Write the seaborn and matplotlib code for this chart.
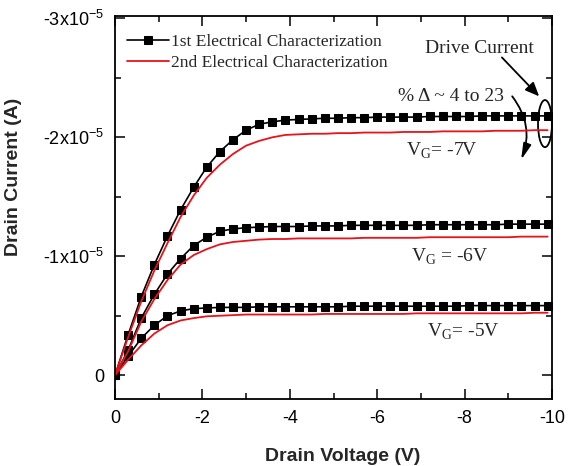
import numpy as np
import pandas as pd
import seaborn as sns
import matplotlib.pyplot as plt
from matplotlib.patches import Ellipse, FancyArrowPatch
from matplotlib.ticker import FixedLocator, FixedFormatter, MultipleLocator

# drain voltage sweep (V)
voltage = [0, -0.3, -0.6, -0.9, -1.2, -1.5, -1.8, -2.1, -2.4, -2.7,
           -3.0, -3.3, -3.6, -3.9, -4.2, -4.5, -4.8, -5.1, -5.4, -5.7,
           -6.0, -6.3, -6.6, -6.9, -7.2, -7.5, -7.8, -8.1, -8.4, -8.7,
           -9.0, -9.3, -9.6, -9.9]

# drain current magnitudes in units of 1e-5 A
first_vg7 = [0, 0.34, 0.66, 0.93, 1.17, 1.39, 1.58, 1.75, 1.88, 1.98,
             2.06, 2.11, 2.13, 2.145, 2.15, 2.155, 2.16, 2.16, 2.165, 2.165,
             2.17, 2.17, 2.17, 2.17, 2.175, 2.175, 2.175, 2.175, 2.18, 2.18,
             2.18, 2.18, 2.18, 2.18]
second_vg7 = [0, 0.32, 0.62, 0.88, 1.11, 1.33, 1.51, 1.66, 1.77, 1.86,
              1.93, 1.97, 2.00, 2.02, 2.025, 2.03, 2.03, 2.035, 2.035, 2.04,
              2.04, 2.04, 2.045, 2.045, 2.045, 2.05, 2.05, 2.05, 2.05, 2.055,
              2.055, 2.055, 2.06, 2.06]
first_vg6 = [0, 0.21, 0.48, 0.68, 0.85, 0.98, 1.09, 1.16, 1.21, 1.23,
             1.24, 1.245, 1.25, 1.25, 1.25, 1.255, 1.255, 1.255, 1.26, 1.26,
             1.26, 1.26, 1.26, 1.26, 1.265, 1.265, 1.265, 1.265, 1.265, 1.265,
             1.27, 1.27, 1.27, 1.27]
second_vg6 = [0, 0.2, 0.45, 0.64, 0.80, 0.93, 1.01, 1.06, 1.10, 1.12,
              1.13, 1.14, 1.145, 1.145, 1.15, 1.15, 1.15, 1.15, 1.15, 1.155,
              1.155, 1.155, 1.155, 1.155, 1.16, 1.16, 1.16, 1.16, 1.16, 1.16,
              1.16, 1.165, 1.165, 1.165]
first_vg5 = [0, 0.16, 0.31, 0.42, 0.50, 0.54, 0.56, 0.565, 0.57, 0.57,
             0.57, 0.575, 0.575, 0.575, 0.575, 0.575, 0.575, 0.575, 0.58, 0.58,
             0.58, 0.58, 0.58, 0.58, 0.58, 0.58, 0.58, 0.585, 0.585, 0.585,
             0.585, 0.585, 0.585, 0.585]
second_vg5 = [0, 0.13, 0.25, 0.35, 0.42, 0.46, 0.48, 0.495, 0.50, 0.505,
              0.51, 0.51, 0.51, 0.51, 0.51, 0.51, 0.515, 0.515, 0.515, 0.515,
              0.515, 0.515, 0.515, 0.52, 0.52, 0.52, 0.52, 0.52, 0.52, 0.52,
              0.52, 0.52, 0.525, 0.525]

y_ticks = [0, -1e-5, -2e-5, -3e-5]
y_labels = ['0', '-1x10$^{\\mathregular{-5}}$', '-2x10$^{\\mathregular{-5}}$', '-3x10$^{\\mathregular{-5}}$']
x_ticks = [0, -2, -4, -6, -8, -10]
x_labels = ['0', '-2', '-4', '-6', '-8', '-10']

sns.set_style("ticks")
plt.rcParams['font.family'] = ['Liberation Sans', 'DejaVu Sans']
plt.rcParams['axes.unicode_minus'] = False

fig = plt.figure(figsize=(5.7, 4.66), dpi=100)
ax = fig.add_axes([0.2018, 0.1438, 0.7666, 0.8219])

scale = -1e-5
first = [first_vg7, first_vg6, first_vg5]
second = [second_vg7, second_vg6, second_vg5]
for i in range(3):
    sns.lineplot(x=voltage, y=np.array(first[i]) * scale, ax=ax, color='black',
                 marker='s', markersize=5.5, markeredgecolor='black', linewidth=1.2,
                 label='1st Electrical Characterization' if i == 0 else None)
for i in range(3):
    sns.lineplot(x=voltage, y=np.array(second[i]) * scale, ax=ax, color='#e8121a',
                 linewidth=1.3,
                 label='2nd Electrical Characterization' if i == 0 else None)

ax.set_xlim(0, -10)
ax.set_ylim(0.2e-5, -3.02e-5)
ax.xaxis.set_major_locator(FixedLocator(x_ticks))
ax.xaxis.set_major_formatter(FixedFormatter(x_labels))
ax.xaxis.set_minor_locator(MultipleLocator(1))
ax.yaxis.set_major_locator(FixedLocator(y_ticks))
ax.yaxis.set_major_formatter(FixedFormatter(y_labels))
ax.yaxis.set_minor_locator(MultipleLocator(0.5e-5))
ax.tick_params(which='both', direction='in', top=True, right=True, width=1.1,
               labelsize=13, colors='black')
ax.tick_params(which='major', length=7, pad=8)
ax.tick_params(which='minor', length=4)
for s in ax.spines.values():
    s.set_linewidth(1.3)
    s.set_color('black')

ax.set_xlabel('Drain Voltage (V)', fontsize=14, fontweight='bold')
ax.set_ylabel('Drain Current (A)', fontsize=14, fontweight='bold')
ax.xaxis.set_label_coords(0.52, -0.127)
ax.yaxis.set_label_coords(-0.213, 0.58)

serif = ['Liberation Serif', 'DejaVu Serif']
ax.legend(loc='upper left', bbox_to_anchor=(0.0, 0.985), frameon=False,
          prop={'family': serif, 'size': 12.5}, handlelength=2.4,
          handletextpad=0.1, labelspacing=0.3, borderaxespad=0.3, numpoints=1)

ax.text(0.835, 0.916, 'Drive Current', transform=ax.transAxes, ha='center', va='center',
        fontsize=14, family=serif)
ax.text(0.770, 0.791, '% \u0394 ~ 4 to 23', transform=ax.transAxes, ha='center', va='center',
        fontsize=14, family=serif)
ax.text(0.747, 0.648, 'V$_{\\mathregular{G}}$= -7V', transform=ax.transAxes, ha='center',
        va='center', fontsize=14, family=serif)
ax.text(0.767, 0.372, 'V$_{\\mathregular{G}}$ = -6V', transform=ax.transAxes, ha='center',
        va='center', fontsize=14, family=serif)
ax.text(0.796, 0.176, 'V$_{\\mathregular{G}}$= -5V', transform=ax.transAxes, ha='center',
        va='center', fontsize=14, family=serif)

ax.add_patch(Ellipse((0.984, 0.719), 0.032, 0.123, transform=ax.transAxes,
                     fill=False, edgecolor='black', linewidth=1.3, clip_on=False))
ax.add_patch(FancyArrowPatch((0.881, 0.897), (0.975, 0.785), transform=ax.transAxes,
                             arrowstyle='-|>,head_width=0.3,head_length=0.7',
                             mutation_scale=12, color='black', linewidth=1.3))
ax.add_patch(FancyArrowPatch((0.905, 0.796), (0.927, 0.618), transform=ax.transAxes,
                             connectionstyle='arc3,rad=-0.3',
                             arrowstyle='-|>,head_width=0.2,head_length=0.8',
                             mutation_scale=12, color='black', linewidth=1.3))

fig.savefig('out.png', dpi=100)
